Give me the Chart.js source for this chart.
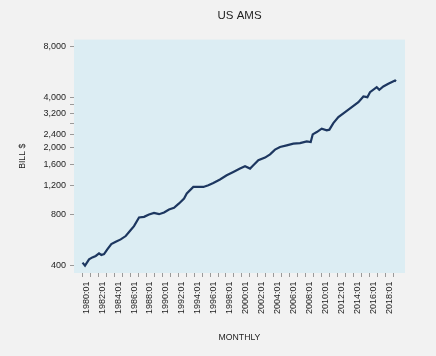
<!DOCTYPE html>
<html><head><meta charset="utf-8">
<script src="https://cdn.jsdelivr.net/npm/chart.js@4/dist/chart.umd.min.js"></script>
<style>html,body{margin:0;padding:0;background:#f2f2f2;}#c{display:block;}</style>
</head><body>
<canvas id="c" width="436" height="356"></canvas>
<script>
// Series (year fraction, billions of $)
const years = [1980.00,1980.31,1980.82,1981.23,1981.66,1982.07,1982.36,1982.70,1983.11,1983.61,
  1984.17,1984.79,1985.42,1986.05,1986.46,1987.09,1987.72,1988.34,1988.97,1989.60,
  1990.23,1990.85,1991.48,1992.11,1992.74,1993.08,1993.90,1994.53,1995.16,1995.79,
  1996.41,1997.25,1998.09,1998.92,1999.76,2000.39,2001.02,2001.43,2002.06,2002.90,
  2003.53,2004.15,2004.78,2005.62,2006.45,2007.29,2008.13,2008.63,2008.88,2009.39,
  2010.01,2010.64,2010.97,2011.47,2012.10,2012.94,2013.78,2014.61,2015.24,2015.74,
  2016.07,2016.91,2017.24,2017.74,2018.37,2019.21,2019.34];
const values = [417,400,436,448,457,474,463,469,500,538,
  555,573,600,651,687,774,780,806,824,809,
  828,863,882,937,1002,1073,1174,1174,1174,1202,
  1240,1299,1377,1441,1509,1557,1509,1578,1690,1753,
  1834,1956,2026,2073,2122,2139,2190,2169,2409,2486,
  2604,2544,2568,2810,3050,3266,3495,3742,4044,4006,
  4289,4593,4431,4635,4808,5031,4981];

const xTickYears = [1980,1981,1982,1983,1984,1985,1986,1987,1988,1989,1990,1991,1992,1993,1994,1995,1996,1997,1998,1999,
  2000,2001,2002,2003,2004,2005,2006,2007,2008,2009,2010,2011,2012,2013,2014,2015,2016,2017,2018,2019];
const xTickLabels = ["1980:01","","1982:01","","1984:01","","1986:01","","1988:01","","1990:01","","1992:01","","1994:01","","1996:01","","1998:01","",
  "2000:01","","2002:01","","2004:01","","2006:01","","2008:01","","2010:01","","2012:01","","2014:01","","2016:01","","2018:01",""];
const yTickValues = [400,800,1200,1600,2000,2400,2800,3200,3600,4000,8000];
const yTickLabels = ["400","800","1,200","1,600","2,000","2,400","","3,200","","4,000","8,000"];

const FONT = "'Liberation Sans', Arial, sans-serif";
const TXT = '#1e1e1e';
const TICK = '#9a9a9a';

const plotBg = {
  id: 'plotBg',
  beforeDraw(chart) {
    const {ctx, chartArea: a} = chart;
    ctx.save();
    ctx.fillStyle = '#dcedf3';
    ctx.fillRect(a.left, a.top, a.right - a.left, a.bottom - a.top);
    ctx.restore();
  }
};

new Chart(document.getElementById('c'), {
  type: 'line',
  data: {
    datasets: [{
      data: years.map((y, i) => ({x: y, y: values[i]})),
      borderColor: '#1d3760',
      borderWidth: 2.2,
      pointRadius: 0,
      tension: 0,
      fill: false
    }]
  },
  options: {
    responsive: false,
    animation: false,
    devicePixelRatio: 1,
    layout: {padding: {left: 0, right: 31, top: 0, bottom: 0}},
    plugins: {
      legend: {display: false},
      tooltip: {enabled: false},
      title: {
        display: true, text: 'US AMS', color: TXT, fullSize: false,
        font: {family: FONT, size: 11.5, weight: 'normal'},
        padding: {top: 9, bottom: 16.8}
      }
    },
    scales: {
      x: {
        type: 'linear', min: 1978.93, max: 2020.46,
        afterBuildTicks(s) { s.ticks = xTickYears.map(v => ({value: v})); },
        afterFit(s) { s.height = 83; },
        grid: {drawOnChartArea: false, drawTicks: true, tickLength: 4, tickColor: TICK},
        border: {display: false},
        ticks: {
          autoSkip: false, maxRotation: 90, minRotation: 90, padding: 4.5, labelOffset: 3.7,
          color: TXT, font: {family: FONT, size: 9},
          callback: (v, i) => xTickLabels[i]
        },
        title: {display: true, text: 'MONTHLY', color: TXT, font: {family: FONT, size: 8.7}, padding: {top: 0, bottom: 13.5}}
      },
      y: {
        type: 'logarithmic', min: 362, max: 8800,
        afterBuildTicks(s) { s.ticks = yTickValues.map(v => ({value: v})); },
        afterFit(s) { s.width = 74; },
        grid: {drawOnChartArea: false, drawTicks: true, tickLength: 4, tickColor: TICK},
        border: {display: false},
        ticks: {
          autoSkip: false, padding: 4, color: TXT, font: {family: FONT, size: 9},
          callback: (v, i) => yTickLabels[i]
        },
        title: {display: true, text: 'BILL $', color: TXT, font: {family: FONT, size: 8.7}, padding: {top: 17.5, bottom: 0}}
      }
    }
  },
  plugins: [plotBg]
});
</script>
</body></html>
